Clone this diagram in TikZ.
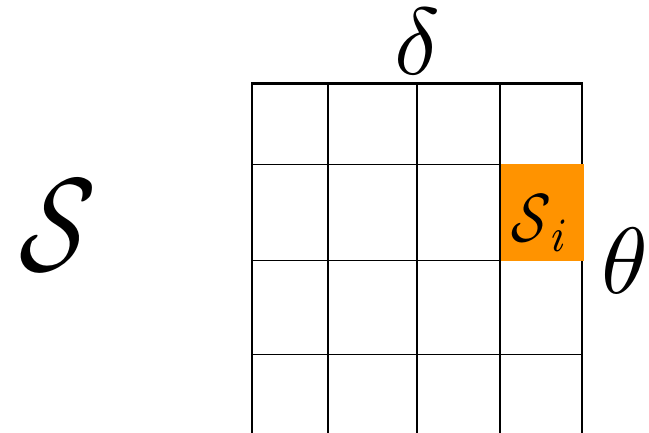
\documentclass[tikz,border=0pt]{standalone}
\definecolor{cellorange}{RGB}{255,147,0}
\begin{document}
\begin{tikzpicture}[x=1pt,y=-1pt,
  outer/.style={line width=2.4pt,black},
  inner/.style={line width=1.3pt,black},
  lbl/.style={inner sep=0pt,outer sep=0pt}]
\useasboundingbox (0,0) rectangle (649,433);
% inner grid lines
\foreach \x in {328,417,500} \draw[inner] (\x,83) -- (\x,433);
\foreach \y in {164.5,260.5,354.5} \draw[inner] (252,\y) -- (582,\y);
% outer frame (open at bottom, cut off)
\draw[outer] (252,433) -- (252,83.5) -- (582,83.5) -- (582,433);
% highlighted cell
\fill[cellorange] (500.5,164.5) rectangle (583.5,261);
\node[lbl,xscale=5.4,yscale=6.8,xslant=0.12] (si) at (541,223) {$\mathcal{S}_{\,i}$};
\node[lbl,xscale=10.2,yscale=13.2,xslant=0.15] (S) at (57,225) {$\mathcal{S}$};
\node[lbl,scale=9.5] (delta) at (417,42) {$\delta$};
\node[lbl,scale=9.4] (theta) at (625,261) {$\theta$};
\end{tikzpicture}
\end{document}
